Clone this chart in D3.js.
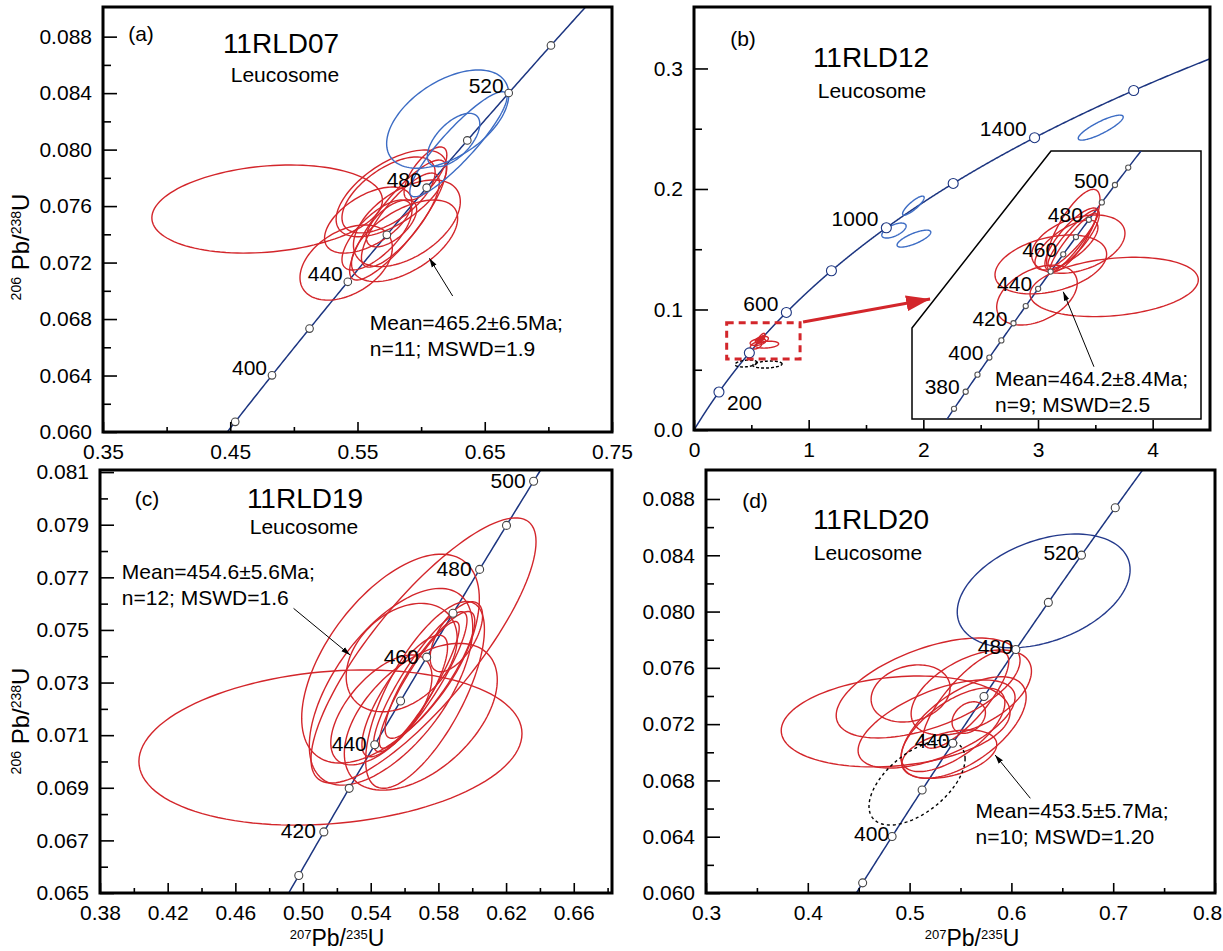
<!DOCTYPE html>
<html>
<head>
<meta charset="utf-8">
<script src="https://cdnjs.cloudflare.com/ajax/libs/d3/7.8.5/d3.min.js"></script>
<style>
  body { margin: 0; background: #fff; }
  svg { display: block; font-family: "Liberation Sans", Arial, sans-serif; }
</style>
</head>
<body>
<svg id="chart" width="1223" height="951"></svg>
<script>
// U decay constants (1/yr), concordia = theoretical curve
const L238 = 1.55125e-10, L235 = 9.8485e-10;

// concordia age marks / labelled ages (Ma)
const marksA = [380, 400, 420, 440, 460, 480, 500, 520, 540];
const labelsA = [400, 440, 480, 520];
const marksB = [200, 400, 600, 800, 1000, 1200, 1400, 1600];
const labelsB = [200, 600, 1000, 1400];
const labelsBBelow = [200];
const marksInset = [370, 380, 390, 400, 410, 420, 430, 440, 450, 460, 470, 480, 490, 500, 510];
const labelsInset = [380, 400, 420, 440, 460, 480, 500];
const marksC = [410, 420, 430, 440, 450, 460, 470, 480, 490, 500];
const labelsC = [420, 440, 460, 480, 500];
const marksD = [380, 400, 420, 440, 460, 480, 500, 520, 540];
const labelsD = [400, 440, 480, 520];

// error ellipses: [207Pb/235U, 206Pb/238U, sx, sy, rho]
const redA = [
  [0.4790, 0.07579, 0.0906, 0.00312, 0.2],
  [0.5767, 0.07690, 0.0435, 0.00307, 0.6],
  [0.5411, 0.07200, 0.0363, 0.00266, 0.4],
  [0.5870, 0.07354, 0.0417, 0.00289, 0.55],
  [0.5888, 0.07478, 0.0420, 0.00307, 0.5],
  [0.5818, 0.07501, 0.0380, 0.00425, 0.85],
  [0.5837, 0.07501, 0.0306, 0.00333, 0.8],
  [0.5584, 0.07501, 0.0343, 0.00234, 0.55],
  [0.5767, 0.07477, 0.0198, 0.00166, 0.6],
  [0.5744, 0.07679, 0.0366, 0.00269, 0.6],
  [0.6034, 0.07831, 0.0168, 0.00188, 0.7],
  [0.5653, 0.07395, 0.0275, 0.00248, 0.7]
];
const blueA = [
  [0.6209, 0.08216, 0.0480, 0.00348, 0.5],
  [0.6293, 0.08038, 0.0382, 0.00372, 0.9],
  [0.6255, 0.08068, 0.0206, 0.00189, 0.6]
];
const blueB = [
  [3.547, 0.2509, 0.196, 0.01037, 0.85],
  [1.913, 0.1862, 0.094, 0.00788, 0.85],
  [1.744, 0.1655, 0.106, 0.00622, 0.6],
  [1.918, 0.1588, 0.147, 0.00705, 0.75]
];
const dashedB = [
  [0.454, 0.0552, 0.096, 0.0029, 0.3],
  [0.641, 0.0543, 0.127, 0.0029, 0.2]
];
const redB = [
  [0.6353, 0.07082, 0.1028, 0.00286, 0.24],
  [0.5579, 0.07299, 0.0682, 0.00284, 0.35],
  [0.5410, 0.07004, 0.0492, 0.00289, 0.4],
  [0.5915, 0.07495, 0.0570, 0.00281, 0.37],
  [0.5854, 0.07626, 0.0326, 0.00397, 0.75],
  [0.5839, 0.07544, 0.0332, 0.00299, 0.8],
  [0.5850, 0.07551, 0.0305, 0.00273, 0.9],
  [0.5770, 0.07487, 0.0385, 0.00241, 0.7],
  [0.5854, 0.07512, 0.0285, 0.00283, 0.92]
];
const redC = [
  [0.5162, 0.07053, 0.1132, 0.00295, 0.18],
  [0.5517, 0.07391, 0.0525, 0.00397, 0.57],
  [0.5712, 0.07422, 0.0665, 0.00504, 0.82],
  [0.5520, 0.07284, 0.0483, 0.00374, 0.6],
  [0.5583, 0.07395, 0.0328, 0.00206, 0.35],
  [0.5721, 0.07253, 0.0351, 0.00355, 0.7],
  [0.5696, 0.07170, 0.0452, 0.00279, 0.5],
  [0.5693, 0.07303, 0.0276, 0.00266, 0.88],
  [0.5687, 0.07291, 0.0236, 0.00241, 0.9],
  [0.5906, 0.07474, 0.0155, 0.00133, 0.6],
  [0.5601, 0.07249, 0.0253, 0.00231, 0.8],
  [0.5463, 0.07196, 0.0299, 0.00209, 0.6],
  [0.5750, 0.07329, 0.0265, 0.00241, 0.85]
];
const redD = [
  [0.4863, 0.07219, 0.1124, 0.00323, 0.2],
  [0.5182, 0.07457, 0.0903, 0.00355, 0.55],
  [0.5010, 0.07418, 0.0388, 0.00203, 0.2],
  [0.5265, 0.07201, 0.0771, 0.00313, 0.6],
  [0.5531, 0.07176, 0.0614, 0.00361, 0.6],
  [0.5606, 0.07425, 0.0591, 0.00302, 0.5],
  [0.5552, 0.07372, 0.0422, 0.00343, 0.8],
  [0.5581, 0.07247, 0.0164, 0.00112, 0.3],
  [0.5390, 0.06987, 0.0466, 0.00172, 0.4],
  [0.5426, 0.07160, 0.0510, 0.00297, 0.65]
];
const blueD = [[0.6317, 0.08147, 0.0849, 0.00404, 0.37]];
const dashedD = [[0.5073, 0.06785, 0.0472, 0.00302, 0.56]];

// tick values
const ticksAx = [0.35, 0.45, 0.55, 0.65, 0.75], minorAx = [0.40, 0.50, 0.60, 0.70];
const ticksAy = [0.060, 0.064, 0.068, 0.072, 0.076, 0.080, 0.084, 0.088];
const minorAy = [0.062, 0.066, 0.070, 0.074, 0.078, 0.082, 0.086];
const ticksBx = [0, 1, 2, 3, 4], minorBx = [0.5, 1.5, 2.5, 3.5];
const ticksBy = [0, 0.1, 0.2, 0.3], minorBy = [0.05, 0.15, 0.25];
const ticksCx = [0.38, 0.42, 0.46, 0.50, 0.54, 0.58, 0.62, 0.66];
const minorCx = [0.40, 0.44, 0.48, 0.52, 0.56, 0.60, 0.64, 0.68];
const ticksCy = [0.065, 0.067, 0.069, 0.071, 0.073, 0.075, 0.077, 0.079, 0.081];
const minorCy = [0.066, 0.068, 0.070, 0.072, 0.074, 0.076, 0.078, 0.080];
const ticksDx = [0.3, 0.4, 0.5, 0.6, 0.7, 0.8], minorDx = [0.35, 0.45, 0.55, 0.65, 0.75];
const ticksDy = ticksAy, minorDy = minorAy;

// annotations: [text x, text y, arrow from x, y, arrow tip x, y] in data units
const meanA = ["Mean=465.2±6.5Ma;", "n=11; MSWD=1.9"], noteA = [0.5597, 0.06774, 0.6248, 0.06963, 0.6065, 0.07230];
const meanB = ["Mean=464.2±8.4Ma;", "n=9; MSWD=2.5"], noteB = [0.4897, 0.06201, 0.6106, 0.06313, 0.5731, 0.07036];
const meanC = ["Mean=454.6±5.6Ma;", "n=12; MSWD=1.6"], noteC = [0.3929, 0.07724, 0.4944, 0.07582, 0.5278, 0.07405];
const meanD = ["Mean=453.5±5.7Ma;", "n=10; MSWD=1.20"], noteD = [0.5648, 0.06583, 0.6186, 0.06673, 0.5840, 0.06981];

const RED = "#d3262b", BLUE = "#3c6cc4", NAVY = "#243a8c", CONC = "#1c3580";
const svg = d3.select("#chart");
const defs = svg.append("defs");

defs.append("marker").attr("id", "arrBlack").attr("viewBox", "0 0 10 10")
  .attr("refX", 10).attr("refY", 5).attr("markerWidth", 9).attr("markerHeight", 9)
  .attr("markerUnits", "userSpaceOnUse").attr("orient", "auto")
  .append("path").attr("d", "M0,2L10,5L0,8Z").attr("fill", "#000");
defs.append("marker").attr("id", "arrRed").attr("viewBox", "0 0 24 16")
  .attr("refX", 24).attr("refY", 8).attr("markerWidth", 24).attr("markerHeight", 16)
  .attr("markerUnits", "userSpaceOnUse").attr("orient", "auto")
  .append("path").attr("d", "M0,0L24,8L0,16Z").attr("fill", RED);

const conc = t => [Math.expm1(L235 * t * 1e6), Math.expm1(L238 * t * 1e6)];
const curveAges = d3.range(0, 2001, 1);

function ellipsePts(e, xs, ys) {
  const [cx, cy, sx, sy, r] = e, q = Math.sqrt(1 - r * r);
  return d3.range(0, 120).map(i => {
    const a = i / 120 * 2 * Math.PI;
    return [xs(cx + sx * Math.cos(a)), ys(cy + sy * (r * Math.cos(a) + q * Math.sin(a)))];
  });
}
const closedLine = d3.line().curve(d3.curveLinearClosed);

function drawEllipses(g, data, xs, ys, color, dash) {
  g.append("g").selectAll("path").data(data).join("path")
    .attr("d", d => closedLine(ellipsePts(d, xs, ys)))
    .attr("fill", "none").attr("stroke", color).attr("stroke-width", 1.4)
    .attr("stroke-dasharray", dash || null);
}

function drawConcordia(g, xs, ys) {
  g.append("path").datum(curveAges.map(conc))
    .attr("d", d3.line().x(d => xs(d[0])).y(d => ys(d[1])))
    .attr("fill", "none").attr("stroke", CONC).attr("stroke-width", 1.5);
}
function drawMarks(g, xs, ys, marks, r, stroke) {
  g.append("g").selectAll("circle").data(marks).join("circle")
    .attr("cx", t => xs(conc(t)[0])).attr("cy", t => ys(conc(t)[1])).attr("r", r)
    .attr("fill", "#fff").attr("stroke", stroke).attr("stroke-width", 1.1);
}
function drawAgeLabels(g, xs, ys, labels, dx, dy, below) {
  const isBelow = t => (below || []).includes(t);
  g.append("g").selectAll("text").data(labels).join("text")
    .attr("x", t => xs(conc(t)[0]) + (isBelow(t) ? 8 : dx))
    .attr("y", t => ys(conc(t)[1]) + (isBelow(t) ? 10 : dy))
    .attr("text-anchor", t => isBelow(t) ? "start" : "end")
    .attr("dominant-baseline", "central").attr("font-size", 21).text(t => t);
}
function drawNote(g, xs, ys, lines, n) {
  g.append("line").attr("x1", xs(n[2])).attr("y1", ys(n[3])).attr("x2", xs(n[4])).attr("y2", ys(n[5]))
    .attr("stroke", "#000").attr("stroke-width", 1).attr("marker-end", "url(#arrBlack)");
  g.append("g").selectAll("text").data(lines).join("text")
    .attr("x", xs(n[0])).attr("y", (d, i) => ys(n[1]) + i * 26)
    .attr("dominant-baseline", "central").attr("font-size", 21).text(d => d);
}

function drawPanel(p) {
  const [x0, y0, x1, y1] = p.box;
  const xs = d3.scaleLinear().domain(p.xd).range([x0, x1]);
  const ys = d3.scaleLinear().domain(p.yd).range([y1, y0]);
  const g = svg.append("g");
  defs.append("clipPath").attr("id", "clip" + p.id).append("rect")
    .attr("x", x0).attr("y", y0).attr("width", x1 - x0).attr("height", y1 - y0);
  const inner = g.append("g").attr("clip-path", `url(#clip${p.id})`);
  drawConcordia(inner, xs, ys);
  p.sets.forEach(s => drawEllipses(inner, s[0], xs, ys, s[1], s[2]));
  drawMarks(inner, xs, ys, p.marks, p.mr, p.ms);
  drawAgeLabels(g, xs, ys, p.labels, p.ldx, p.ldy, p.below);
  if (p.note) drawNote(g, xs, ys, p.mean, p.note);

  // axes
  const styleAxis = a => {
    a.select(".domain").remove();
    a.selectAll("line").attr("stroke", "#000").attr("stroke-width", 1.6);
    a.selectAll("text").attr("font-size", 21).attr("font-family", "Liberation Sans, Arial, sans-serif").attr("fill", "#000");
  };
  g.append("g").attr("transform", `translate(${x0},0)`)
    .call(d3.axisLeft(ys).tickValues(p.ty).tickSize(-14).tickPadding(11).tickFormat(d3.format(p.fy))).call(styleAxis);
  g.append("g").attr("transform", `translate(${x0},0)`)
    .call(d3.axisLeft(ys).tickValues(p.my).tickSize(-8).tickFormat("")).call(styleAxis);
  const xa = g.append("g").attr("transform", `translate(0,${y1})`)
    .call(d3.axisBottom(xs).tickValues(p.tx).tickSize(-10).tickPadding(12).tickFormat(d3.format(p.fx))).call(styleAxis);
  // keep a label sitting on the page edge inside the page
  xa.selectAll(".tick text").filter(d => xs(d) + 16 > 1223).attr("dx", -8);
  g.append("g").attr("transform", `translate(0,${y1})`)
    .call(d3.axisBottom(xs).tickValues(p.mx).tickSize(-5).tickFormat("")).call(styleAxis);

  g.append("rect").attr("x", x0).attr("y", y0).attr("width", x1 - x0).attr("height", y1 - y0)
    .attr("fill", "none").attr("stroke", "#000").attr("stroke-width", 3);

  // titles
  g.append("text").attr("x", p.t[0]).attr("y", p.t[1]).attr("text-anchor", "middle")
    .attr("dominant-baseline", "central").attr("font-size", 21).text(`(${p.id})`);
  g.append("text").attr("x", p.t[2]).attr("y", p.t[3]).attr("text-anchor", "middle")
    .attr("dominant-baseline", "central").attr("font-size", 28).text(p.name);
  g.append("text").attr("x", p.t[4]).attr("y", p.t[5]).attr("text-anchor", "middle")
    .attr("dominant-baseline", "central").attr("font-size", 21).text("Leucosome");
  return { xs, ys, g };
}

function yTitle(x, y, a, b) {
  const t = svg.append("text").attr("transform", `translate(${x},${y}) rotate(-90)`).attr("text-anchor", "middle");
  t.append("tspan").attr("font-size", 14).attr("dy", -8).text(a);
  t.append("tspan").attr("font-size", 24).attr("dy", 8).text(" Pb/");
  t.append("tspan").attr("font-size", 14).attr("dy", -8).text(b);
  t.append("tspan").attr("font-size", 24).attr("dy", 8).text("U");
}
function xTitle(x, y, a, b) {
  const t = svg.append("text").attr("x", x).attr("y", y).attr("text-anchor", "middle");
  t.append("tspan").attr("font-size", 13).attr("dy", -7).text(a);
  t.append("tspan").attr("font-size", 23).attr("dy", 7).text("Pb/");
  t.append("tspan").attr("font-size", 13).attr("dy", -7).text(b);
  t.append("tspan").attr("font-size", 23).attr("dy", 7).text("U");
}

// (a)
drawPanel({
  id: "a", name: "11RLD07", box: [103, 7, 612, 432], xd: [0.35, 0.75], yd: [0.060, 0.0901],
  sets: [[redA, RED], [blueA, BLUE]], marks: marksA, mr: 3.8, ms: "#444",
  labels: labelsA, ldx: -5, ldy: -8, mean: meanA, note: noteA,
  tx: ticksAx, mx: minorAx, ty: ticksAy, my: minorAy, fx: ".2f", fy: ".3f",
  t: [141, 33, 281, 43, 285, 74]
});

// (b)
const pb = drawPanel({
  id: "b", name: "11RLD12", box: [694, 7, 1210, 430], xd: [0, 4.5], yd: [0, 0.351],
  sets: [[blueB, BLUE], [redB, RED], [dashedB, "#000", "3,2"]], marks: marksB, mr: 5, ms: CONC,
  labels: labelsB, ldx: -8, ldy: -9, below: labelsBBelow,
  tx: ticksBx, mx: minorBx, ty: ticksBy, my: minorBy, fx: "d", fy: ".1f",
  t: [743, 38, 871, 57, 872, 90]
});
// zoom box + red arrow (data units of main plot)
const zoomBox = [0.285, 0.925, 0.059, 0.089], redArrow = [0.951, 0.0896, 2.059, 0.1087];
pb.g.append("rect").attr("x", pb.xs(zoomBox[0])).attr("y", pb.ys(zoomBox[3]))
  .attr("width", pb.xs(zoomBox[1]) - pb.xs(zoomBox[0])).attr("height", pb.ys(zoomBox[2]) - pb.ys(zoomBox[3]))
  .attr("fill", "none").attr("stroke", RED).attr("stroke-width", 3).attr("stroke-dasharray", "7,5");
pb.g.append("line").attr("x1", pb.xs(redArrow[0])).attr("y1", pb.ys(redArrow[1]))
  .attr("x2", pb.xs(redArrow[2])).attr("y2", pb.ys(redArrow[3]))
  .attr("stroke", RED).attr("stroke-width", 3).attr("marker-end", "url(#arrRed)");

// inset of (b)
const ins = { l: 912, t: 151, r: 1201, b: 419, cy: 328, cx: 1051 };
const insPoly = [[ins.l, ins.cy], [ins.cx, ins.t], [ins.r, ins.t], [ins.r, ins.b], [ins.l, ins.b]];
const ixs = d3.scaleLinear().domain([0.3883, 0.7414]).range([ins.l, ins.r]);
const iys = d3.scaleLinear().domain([0.05809, 0.08393]).range([ins.b, ins.t]);
const ig = svg.append("g");
ig.append("polygon").attr("points", insPoly.join(" ")).attr("fill", "#fff").attr("stroke", "#000").attr("stroke-width", 1.5);
defs.append("clipPath").attr("id", "clipInset").append("polygon").attr("points", insPoly.join(" "));
const iin = ig.append("g").attr("clip-path", "url(#clipInset)");
drawConcordia(iin, ixs, iys);
drawEllipses(iin, redB, ixs, iys, RED);
drawMarks(iin, ixs, iys, marksInset, 2.6, "#555");
drawAgeLabels(ig, ixs, iys, labelsInset, -6, -5);
drawNote(ig, ixs, iys, meanB, noteB);

// (c)
drawPanel({
  id: "c", name: "11RLD19", box: [100, 470, 612, 893], xd: [0.38, 0.6826], yd: [0.065, 0.08108],
  sets: [[redC, RED]], marks: marksC, mr: 4, ms: "#444",
  labels: labelsC, ldx: -8, ldy: -1, mean: meanC, note: noteC,
  tx: ticksCx, mx: minorCx, ty: ticksCy, my: minorCy, fx: ".2f", fy: ".3f",
  t: [147, 498, 305, 498, 304, 526]
});

// (d)
drawPanel({
  id: "d", name: "11RLD20", box: [706, 470, 1215, 893], xd: [0.3, 0.8], yd: [0.060, 0.09006],
  sets: [[redD, RED], [blueD, NAVY], [dashedD, "#000", "3,3"]], marks: marksD, mr: 4, ms: "#444",
  labels: labelsD, ldx: -3, ldy: -3, mean: meanD, note: noteD,
  tx: ticksDx, mx: minorDx, ty: ticksDy, my: minorDy, fx: ".1f", fy: ".3f",
  t: [755, 500, 871, 519, 868, 552]
});

yTitle(29, 247, "206", "238");
yTitle(29, 721, "206", "238");
xTitle(337, 946, "207", "235");
xTitle(972, 946, "207", "235");
</script>
</body>
</html>
